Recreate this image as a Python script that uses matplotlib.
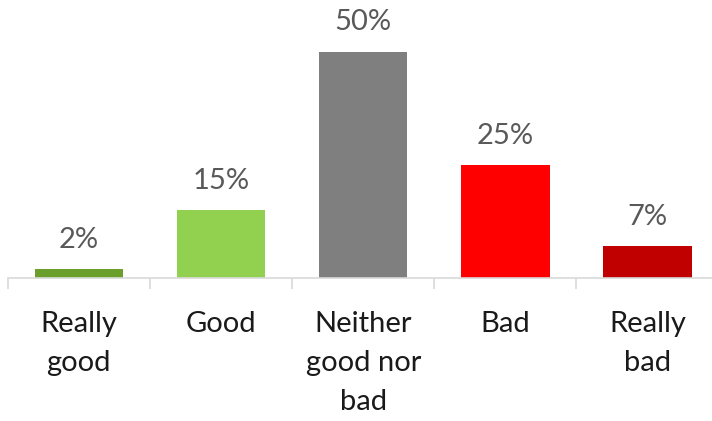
import matplotlib.pyplot as plt

categories = ['Really\ngood', 'Good', 'Neither\ngood nor\nbad', 'Bad', 'Really\nbad']
values = [2, 15, 50, 25, 7]
colors = ['#6a9f2b', '#92d050', '#7f7f7f', '#ff0000', '#c00000']

plt.rcParams['font.family'] = ['Lato', 'DejaVu Sans']

fig = plt.figure(figsize=(7.12, 4.21), dpi=100)
ax = fig.add_axes([7.7 / 712, 143 / 421, 711 / 712, 278 / 421])

x = range(len(values))
ax.bar(x, values, width=0.623, color=colors)
for i, v in enumerate(values):
    ax.text(i, v + 3.6, f'{v}%', ha='center', va='bottom', fontsize=21, color='#595959')

ax.set_xlim(-0.5, 4.5)
ax.set_ylim(0, 61.4)
ax.set_yticks([])
for s in ['top', 'right', 'left']:
    ax.spines[s].set_visible(False)
ax.spines['bottom'].set_color('#d9d9d9')
ax.spines['bottom'].set_linewidth(1.2)

# category boundary ticks
ax.set_xticks([i - 0.5 for i in range(len(values) + 1)])
ax.set_xticklabels([])
ax.tick_params(axis='x', length=8, width=1.2, color='#d9d9d9')
ax.set_xticks(list(x), minor=True)
ax.set_xticklabels(categories, minor=True, fontsize=21, color='#1a1a1a', linespacing=1.6)
ax.tick_params(axis='x', which='minor', length=0, pad=24)

fig.savefig('out.png', dpi=100)
